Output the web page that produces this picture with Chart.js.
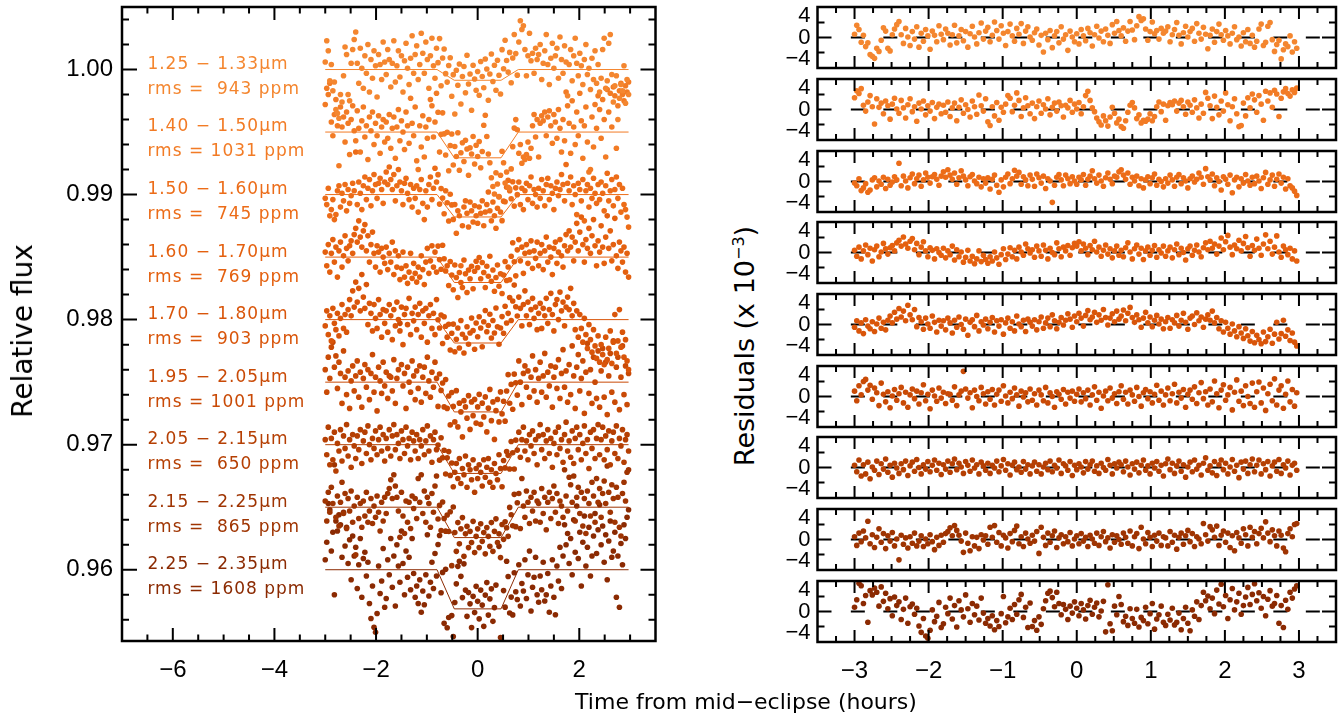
<!DOCTYPE html>
<html>
<head>
<meta charset="utf-8">
<script src="https://cdn.jsdelivr.net/npm/chart.js@4.4.0/dist/chart.umd.min.js"></script>
<style>
  html, body { margin: 0; padding: 0; background: #fff; }
  #wrap { position: relative; width: 1343px; height: 718px; overflow: hidden; font-family: "DejaVu Sans", sans-serif; }
  #wrap canvas { position: absolute; }
  .title { position: absolute; font-size: 22px; line-height: 1; color: #000; white-space: nowrap; transform: translate(-50%, -50%); }
  .rot { transform: translate(-50%, -50%) rotate(-90deg); }
  sup { font-size: 16px; vertical-align: 10px; }
</style>
</head>
<body>
<div id="wrap">
  <canvas id="fluxChart" width="680" height="718" style="left:0;top:0"></canvas>
  <div class="title" style="left:746px;top:702px">Time from mid−eclipse (hours)</div>
  <div class="title rot" style="left:23px;top:331px;font-size:28px">Relative flux</div>
  <div class="title rot" style="left:744px;top:346px;font-size:27px">Residuals (x 10<sup>−3</sup>)</div>
</div>
<script>
// time from mid-eclipse (hours), shared by all channels
const times = [
  -3.00,-2.97,-2.94,-2.91,-2.88,-2.85,-2.82,-2.79,-2.76,-2.73,-2.70,-2.67,-2.64,-2.61,-2.58,-2.55,-2.52,-2.49,-2.46,-2.43,
  -2.40,-2.37,-2.34,-2.31,-2.28,-2.25,-2.22,-2.19,-2.16,-2.13,-2.10,-2.07,-2.04,-2.01,-1.98,-1.95,-1.92,-1.89,-1.86,-1.83,
  -1.80,-1.77,-1.74,-1.71,-1.68,-1.65,-1.62,-1.59,-1.56,-1.53,-1.50,-1.47,-1.44,-1.41,-1.38,-1.35,-1.32,-1.29,-1.26,-1.23,
  -1.20,-1.17,-1.14,-1.11,-1.08,-1.05,-1.02,-0.99,-0.96,-0.93,-0.90,-0.87,-0.84,-0.81,-0.78,-0.75,-0.72,-0.69,-0.66,-0.63,
  -0.60,-0.57,-0.54,-0.51,-0.48,-0.45,-0.42,-0.39,-0.36,-0.33,-0.30,-0.27,-0.24,-0.21,-0.18,-0.15,-0.12,-0.09,-0.06,-0.03,
  0.00,0.03,0.06,0.09,0.12,0.15,0.18,0.21,0.24,0.27,0.30,0.33,0.36,0.39,0.42,0.45,0.48,0.51,0.54,0.57,
  0.60,0.63,0.66,0.69,0.72,0.75,0.78,0.81,0.84,0.87,0.90,0.93,0.96,0.99,1.02,1.05,1.08,1.11,1.14,1.17,
  1.20,1.23,1.26,1.29,1.32,1.35,1.38,1.41,1.44,1.47,1.50,1.53,1.56,1.59,1.62,1.65,1.68,1.71,1.74,1.77,
  1.80,1.83,1.86,1.89,1.92,1.95,1.98,2.01,2.04,2.07,2.10,2.13,2.16,2.19,2.22,2.25,2.28,2.31,2.34,2.37,
  2.40,2.43,2.46,2.49,2.52,2.55,2.58,2.61,2.64,2.67,2.70,2.73,2.76,2.79,2.82,2.85,2.88,2.91,2.94,2.97
];

const bands = ['1.25 − 1.33μm', '1.40 − 1.50μm', '1.50 − 1.60μm', '1.60 − 1.70μm', '1.70 − 1.80μm',
               '1.95 − 2.05μm', '2.05 − 2.15μm', '2.15 − 2.25μm', '2.25 − 2.35μm'];
const rmsLabels = ['rms =  943 ppm', 'rms = 1031 ppm', 'rms =  745 ppm', 'rms =  769 ppm', 'rms =  903 ppm',
                   'rms = 1001 ppm', 'rms =  650 ppm', 'rms =  865 ppm', 'rms = 1608 ppm'];
const baselines = [1.000, 0.995, 0.990, 0.985, 0.980, 0.975, 0.970, 0.965, 0.960];
const depths = [0.86, 2.06, 1.79, 2.03, 1.87, 2.38, 2.30, 2.43, 3.13];   // eclipse depth, x 10^-3
const contacts = [-0.80, -0.46, 0.46, 0.80];                              // hours
const colors = ['#F4862F', '#F27B25', '#EC6C18', '#E4600F', '#D9550A', '#C94A06', '#B53F03', '#9F3402', '#8B2A02'];

// residuals, x 10^-3
const res1 = [
  0.6,2.3,1.5,-0.9,0.4,-1.7,-1.0,-3.2,-3.5,-3.9,-2.0,-2.6,-0.5,1.8,1.2,-2.0,-2.5,0.5,1.6,2.4,
  3.0,0.5,-1.1,1.7,0.1,-1.5,1.1,-0.3,2.0,-1.8,0.8,-0.7,1.5,0.3,-2.2,1.2,0.4,-0.8,2.2,0.6,
  -0.4,1.6,0.8,-1.4,0.5,2.3,-1.0,0.3,1.5,-0.6,1.1,-1.8,0.7,2.1,0.1,-1.2,0.9,2.7,-0.3,1.2,
  1.9,-0.8,0.4,2.9,1.3,-0.3,2.2,0.8,-1.5,1.1,2.5,0.3,-0.7,1.7,0.6,2.6,-1.1,1.2,2.0,0.1,
  -0.5,0.9,1.6,-1.4,0.4,-2.7,0.8,-0.4,1.3,-1.9,0.3,1.1,-1.0,2.0,-0.3,0.5,-2.4,1.2,0.1,-0.8,
  0.7,-1.2,1.5,0.3,-0.6,1.7,0.9,-1.6,0.5,2.1,-0.1,1.2,-0.8,1.6,0.4,-1.1,2.4,0.8,3.0,1.3,
  0.3,1.8,-0.7,1.2,3.0,1.4,-0.4,2.2,3.9,3.2,3.5,1.6,-0.5,1.1,2.9,0.7,1.3,-0.3,1.7,0.8,
  1.2,2.0,-0.8,0.5,1.5,2.8,0.4,-1.2,0.9,2.1,0.1,1.1,1.7,-0.7,2.6,0.8,-0.3,1.9,0.6,-2.1,
  0.4,1.6,-0.9,1.1,2.5,0.5,-0.5,1.3,0.3,-1.2,0.8,2.0,-0.4,0.1,-1.6,0.9,-0.8,1.5,-1.1,0.4,
  -1.8,-0.7,1.6,2.5,-1.5,-0.9,2.1,2.8,-0.4,-2.6,-1.3,-0.5,-4.0,-2.3,-1.2,-1.7,0.3,-2.7,-0.8,-2.0
];
const res2 = [
  2.2,3.5,3.0,3.9,0.8,-0.3,1.4,2.6,0.5,-2.7,2.0,0.4,1.2,-0.8,1.6,0.7,-1.8,1.0,2.1,0.1,
  -0.7,1.7,0.3,-1.6,0.9,2.0,-0.4,0.5,-2.2,1.2,0.1,1.6,-1.0,0.7,-0.3,1.3,-1.7,0.4,1.0,-0.8,
  0.8,-0.5,1.4,-1.3,0.3,1.2,-2.1,0.4,1.8,-0.7,0.9,0.0,-1.4,1.6,0.5,-0.9,2.7,0.7,-0.3,2.0,
  -2.3,-3.0,0.5,-1.2,1.3,-2.0,0.4,-0.5,1.0,2.6,2.1,-0.4,0.8,3.1,1.7,-1.3,0.3,2.2,0.7,-0.8,
  1.2,-1.7,0.5,1.6,-0.7,0.9,0.1,2.0,-1.0,0.4,1.2,-0.3,1.4,0.7,-1.4,0.8,0.3,1.7,-0.5,1.0,
  0.1,1.3,-0.8,0.5,2.6,3.4,1.7,0.3,-0.4,-1.6,-2.3,-2.9,-1.2,-2.1,-3.1,-1.4,0.4,-0.7,-2.5,-1.8,
  -3.2,-3.5,-2.1,-0.5,0.8,1.3,0.3,-1.7,-1.0,-2.5,-2.0,-2.2,-1.8,-0.8,-2.1,-1.3,0.5,1.4,-0.4,1.0,
  -2.0,0.7,1.3,0.9,1.6,-0.3,1.2,1.7,0.5,-0.9,1.4,0.8,-0.5,1.8,0.3,-1.6,1.0,-0.7,3.2,2.1,
  0.7,-1.7,2.5,0.4,-1.0,1.6,-0.3,3.1,0.9,-2.1,0.5,2.0,-0.8,-3.2,-3.0,1.2,-1.2,2.2,0.3,2.9,
  1.8,-0.5,2.6,1.0,-2.0,3.4,1.6,3.1,0.4,3.6,2.9,-1.3,2.1,3.3,3.9,3.0,2.5,3.7,3.2,4.0
];
const res3 = [
  -0.3,-0.8,0.5,-1.7,-1.2,-0.4,-2.0,-1.6,0.3,0.7,-1.0,0.1,-0.5,0.8,-1.3,0.4,-0.7,-0.1,0.9,0.3,
  3.4,-0.8,1.0,0.1,-1.2,0.7,1.4,-0.4,0.5,1.2,-0.9,0.3,1.6,0.8,-0.3,0.9,1.3,0.4,-0.7,1.0,
  1.8,0.8,2.2,1.2,0.4,1.6,-0.5,0.7,2.0,1.0,0.3,-0.8,0.9,1.3,0.1,-0.4,0.8,-1.0,0.5,-0.3,
  0.7,-1.4,0.4,1.2,-0.7,-2.0,0.3,-1.0,0.8,1.4,-0.4,0.5,2.1,1.0,1.7,-0.5,0.9,0.3,-0.8,1.2,
  0.4,-0.9,1.4,0.7,-0.3,1.0,-1.3,0.5,0.1,-3.9,-0.7,0.8,1.3,0.3,-0.8,1.2,0.5,-0.4,0.9,0.1,
  -0.5,0.8,0.3,1.3,-0.7,0.4,1.0,2.0,0.5,-0.3,1.2,0.1,-0.9,0.7,1.6,0.4,-0.4,1.0,0.8,1.8,
  2.2,1.2,0.4,1.6,-0.5,0.8,0.1,1.0,-0.8,0.5,-1.2,0.3,0.9,-0.4,0.7,1.4,-0.7,0.4,0.0,-1.0,
  0.5,-0.3,1.2,0.3,-0.9,0.8,1.3,-0.4,0.7,0.1,-1.2,0.5,1.0,-0.1,0.4,1.6,0.8,-0.5,2.4,0.9,
  0.3,1.4,-0.8,0.7,0.0,-1.6,0.9,0.4,-0.5,1.2,-2.1,0.3,0.8,-1.0,0.5,-0.3,1.3,0.1,-0.7,0.8,
  -0.4,1.0,0.1,-1.3,0.7,1.7,-0.5,0.3,1.2,-0.9,0.4,1.4,-0.3,0.8,-1.4,0.5,-0.8,-1.2,-1.8,-2.6
];
const res4 = [
  0.4,-0.7,1.0,-1.2,0.3,1.4,-0.4,0.8,-1.6,0.5,1.2,-0.8,0.1,1.7,0.7,-0.3,0.9,1.3,0.3,1.8,
  2.3,1.2,2.9,1.6,0.8,2.1,2.6,0.5,1.7,-0.4,1.0,2.0,0.3,-0.8,0.9,0.4,-1.2,0.7,0.0,-0.5,
  0.8,-1.0,0.3,-0.4,1.2,-1.4,0.5,-0.8,0.1,-1.8,-0.9,0.4,-1.6,-0.7,-2.1,-1.2,0.3,-1.7,-0.5,-1.3,
  -2.0,-0.8,-1.6,0.1,-1.0,-2.2,-0.4,0.7,-1.3,-0.3,0.9,-0.8,0.4,-1.2,1.0,0.1,-0.5,1.6,0.7,-0.1,
  0.5,-0.9,1.2,0.3,-0.7,1.4,0.4,-1.2,0.8,0.0,-0.4,1.8,0.7,-0.8,1.0,0.3,1.3,-0.5,0.9,1.7,
  1.2,2.0,0.3,1.6,0.8,-0.4,1.3,0.5,2.1,0.1,1.0,-0.7,0.4,1.4,-0.3,0.7,-1.0,0.3,1.2,-0.5,
  0.4,-0.8,0.9,1.8,0.1,-1.2,0.7,1.4,-0.3,0.8,-1.3,0.3,1.0,-0.5,0.4,1.3,-0.9,0.5,-0.1,1.2,
  -0.7,0.3,1.0,-1.0,0.5,1.6,-0.4,0.8,0.0,-1.4,0.7,1.2,-0.5,0.4,1.4,0.1,-0.8,0.9,1.8,0.5,
  2.1,0.8,1.6,-0.3,1.2,2.7,0.5,2.0,3.2,1.0,-0.4,1.4,0.7,2.3,0.3,1.7,3.0,0.9,-0.7,1.3,
  0.4,2.5,0.8,-0.5,1.6,3.3,0.7,2.1,-0.3,1.0,3.1,0.1,-0.9,1.2,0.5,-0.4,0.8,-1.2,0.3,-1.6
];
const res5 = [
  -0.5,0.7,-1.2,0.3,-1.7,0.9,-0.3,-0.8,0.5,-1.3,0.1,1.2,-0.7,0.4,-1.0,0.8,1.6,0.3,2.3,1.0,
  3.0,1.4,2.5,0.7,3.6,1.8,0.9,2.8,-0.4,1.3,0.5,-0.9,1.2,0.1,-0.7,1.6,0.4,-1.4,0.8,-0.3,
  0.7,-1.0,1.2,0.3,-1.6,0.8,-0.5,1.4,0.0,-0.9,1.0,-2.0,0.4,0.9,-0.4,1.7,-1.2,0.5,-0.1,1.0,
  -0.8,0.4,1.3,-1.4,0.7,-0.3,0.9,-1.8,0.3,1.2,-0.7,0.5,-1.2,1.6,0.1,-0.4,0.8,-1.3,1.0,0.4,
  -0.3,0.9,-1.0,0.5,1.4,-0.7,0.3,1.2,-0.4,1.8,0.7,-0.8,0.4,1.3,-0.1,0.8,2.0,1.0,-0.5,1.6,
  0.5,2.1,1.2,-0.3,1.7,2.6,0.9,1.4,2.3,0.4,1.8,0.8,2.8,1.3,-0.1,1.2,2.0,0.5,2.5,1.0,
  1.6,2.7,0.7,2.1,3.2,1.3,0.4,1.8,0.9,-0.5,1.2,2.3,0.3,1.4,-0.4,0.8,1.7,0.1,1.0,-0.8,
  0.5,1.3,-0.7,0.9,0.3,1.7,-0.3,0.8,2.1,0.4,-0.9,1.2,1.6,0.0,2.2,0.7,1.4,-0.5,1.0,1.8,
  0.8,2.5,0.3,1.3,-0.8,0.7,-1.4,0.4,-0.7,-1.8,0.1,-1.2,-2.3,-0.4,-1.6,-2.6,-0.8,-2.1,-3.1,-1.3,
  -3.4,-2.0,-2.8,-3.6,-1.4,-3.2,-2.3,-0.9,-3.5,-1.8,0.4,-2.7,-1.7,0.8,-2.2,-1.0,-3.0,-1.6,-3.3,-4.0
];
const res6 = [
  1.0,-0.8,2.0,0.3,2.8,3.2,1.2,2.1,-0.5,1.6,0.7,-1.7,2.5,0.4,-1.0,0.9,-2.1,0.1,1.3,-0.7,
  0.5,1.7,-1.2,0.8,-2.0,0.3,1.4,-0.4,1.0,-1.4,0.7,2.2,-0.8,0.4,-2.3,1.2,0.1,-0.9,1.6,-0.3,
  0.8,-1.3,0.5,0.4,-0.7,1.8,-1.7,0.3,1.0,4.7,1.4,-0.3,0.7,-2.1,1.2,0.0,-0.8,1.7,0.5,-1.4,
  0.9,-0.5,1.3,-1.6,0.4,1.2,-0.9,2.0,0.1,-1.2,0.8,-0.4,1.6,0.3,-1.8,1.0,-0.1,0.7,-1.0,1.4,
  -0.7,0.5,-1.6,1.2,0.3,-0.8,1.7,-1.2,0.7,0.0,-2.0,0.9,0.4,-0.5,1.3,-1.4,0.8,-0.3,1.0,-0.9,
  0.4,1.4,-1.0,0.7,-0.4,1.2,-1.6,0.3,1.8,-0.7,0.8,-2.2,0.1,1.0,-0.8,1.6,-0.3,0.5,-1.3,0.9,
  2.0,-0.5,0.8,-1.4,1.2,0.3,-0.9,1.7,0.0,-1.8,0.7,1.3,-0.4,0.9,-1.2,0.4,2.1,-0.7,1.0,-1.6,
  0.3,1.6,-0.8,0.5,2.3,-1.2,0.8,-0.3,1.3,-2.0,0.4,1.2,-0.5,1.8,-1.3,0.7,2.6,-0.4,0.9,-1.6,
  1.4,-1.0,2.9,0.5,-2.1,1.2,2.2,-0.7,0.3,1.7,-2.5,0.8,3.1,-0.9,1.0,-1.7,2.0,0.0,-1.3,2.5,
  -2.0,0.9,2.7,-1.2,1.6,-2.6,0.5,2.3,-0.8,3.3,-1.6,1.2,2.0,-2.2,0.4,2.9,-1.0,1.3,-1.8,0.7
];
const res7 = [
  0.4,-0.8,1.4,-1.6,0.5,-1.2,1.0,-2.1,0.1,-0.5,1.2,-1.3,0.7,-0.3,1.6,-0.9,0.4,-1.8,0.8,-0.1,
  -1.1,0.7,-0.4,1.2,-1.5,0.3,1.0,-0.7,1.5,0.0,-1.2,0.5,-0.3,1.1,-0.8,0.4,1.4,-0.5,0.8,-1.3,
  0.5,-0.3,1.2,-0.9,0.7,1.6,-0.4,0.8,0.1,-1.1,1.1,0.4,-0.7,1.4,-0.1,0.5,-1.2,1.0,0.3,-0.5,
  0.8,-1.1,0.4,-0.1,1.2,-0.8,0.3,1.5,-0.5,0.7,-1.4,0.4,1.0,-0.4,0.1,-0.9,1.1,-0.3,0.5,-1.2,
  0.3,1.0,-0.7,0.5,-1.2,0.1,0.8,-0.4,1.2,-0.8,0.4,-0.1,1.4,-1.1,0.7,0.3,-0.5,1.1,-1.5,0.4,
  -0.4,0.7,0.1,-1.0,1.1,-0.3,0.5,1.2,-0.7,0.3,-1.1,0.8,0.0,-0.5,1.5,0.4,-1.2,0.7,-0.1,1.0,
  0.5,-0.8,1.2,0.1,-1.4,0.7,-0.3,1.0,-1.0,0.4,1.4,-0.5,0.3,-1.2,0.8,-0.1,1.1,-0.7,0.4,-1.6,
  0.7,1.6,-0.4,0.8,-1.1,0.3,1.2,-0.7,0.5,-1.8,0.1,1.0,-0.8,1.4,-0.3,0.4,-1.4,0.8,1.8,-0.5,
  0.3,-1.0,1.1,-1.5,0.5,1.4,-0.4,0.8,-1.2,0.1,1.5,-0.7,0.4,-1.9,1.0,-0.3,1.2,-1.1,0.5,1.6,
  -0.8,0.4,1.4,-1.2,0.7,-0.4,1.1,-1.6,0.3,1.0,-0.7,1.5,-1.1,0.5,-0.1,1.2,-1.4,0.4,0.8,-0.5
];
const res8 = [
  0.5,-1.1,1.2,-0.4,1.6,0.3,3.4,-0.8,0.9,-1.5,0.4,2.0,-0.5,1.1,-1.7,0.7,-0.3,1.3,-1.2,0.1,
  -3.8,0.8,-0.9,0.3,-1.6,0.5,-0.7,1.2,-1.2,-0.3,0.7,-1.3,0.1,-0.8,0.9,-0.4,-1.9,0.4,-1.1,0.8,
  -0.5,1.1,1.5,2.2,0.7,2.6,1.7,0.8,-0.3,-2.4,1.2,-0.7,-2.1,0.5,-1.2,0.4,-1.7,0.9,-0.1,0.7,
  -0.9,2.3,0.4,2.6,-0.5,1.3,-1.2,0.8,0.3,-1.6,1.1,-0.4,1.7,2.5,-0.8,0.5,-1.3,1.2,0.1,-0.7,
  0.8,-0.3,1.5,-2.6,2.3,0.4,-1.1,1.2,-0.5,0.7,1.6,-1.5,0.3,0.9,-0.8,0.5,-0.4,1.3,-1.2,0.1,
  0.7,-0.8,1.1,-0.3,0.4,-1.3,0.8,0.1,-0.7,1.2,-1.1,0.5,1.5,-0.4,0.3,-1.6,0.9,-0.5,0.7,0.0,
  -0.9,1.2,0.4,-0.7,1.6,-1.2,0.5,1.1,-1.7,2.3,0.1,-0.8,1.3,0.4,-1.3,0.8,-0.3,1.2,-1.1,0.5,
  0.3,-1.2,1.5,-0.5,0.8,-1.8,0.4,1.2,-0.9,0.7,1.7,-0.4,1.1,-1.3,0.5,0.1,-0.8,3.0,0.9,-0.3,
  2.4,1.8,0.4,2.5,-1.1,0.8,1.6,-0.5,1.2,-1.5,0.7,-2.1,1.3,0.3,-0.7,2.0,0.9,-1.2,2.3,0.4,
  1.5,-0.8,1.1,2.1,0.3,3.3,1.2,-0.4,1.8,0.7,-1.2,1.6,0.8,-1.6,-2.3,1.1,2.0,0.5,2.8,3.0
];
const res9 = [
  0.8,2.2,5.3,4.8,1.5,3.0,-2.0,3.9,3.1,4.4,3.6,1.0,4.6,1.9,3.4,0.5,2.4,-0.8,2.7,1.1,
  1.8,-1.5,0.4,2.5,-2.2,0.9,1.4,-0.5,0.6,-2.7,-3.9,-1.3,-4.6,-5.0,-3.5,0.3,-1.9,-0.9,1.7,-3.0,
  -2.3,0.8,-0.4,2.5,-1.4,1.1,-2.9,2.0,0.3,-1.0,3.1,0.5,-2.0,1.5,-0.6,1.0,-1.6,2.5,-0.3,-2.2,
  -1.3,-2.7,-0.8,-3.4,-1.7,-2.8,-0.4,2.8,-2.1,-1.0,0.6,-1.5,1.3,-0.5,2.2,3.2,-1.1,0.8,-3.0,1.6,
  -2.8,-1.7,-3.5,-1.0,-2.4,0.5,2.0,3.4,3.8,2.6,0.9,3.6,1.5,-0.6,1.3,0.4,-1.5,1.0,-0.3,1.8,
  0.6,-0.8,1.5,0.3,-1.4,1.1,2.1,-0.5,0.8,1.6,-1.0,0.1,1.9,-3.8,5.0,-2.3,-3.6,1.0,-0.6,2.8,
  1.3,-1.9,-0.9,-2.6,0.5,-1.3,-2.2,0.4,-2.9,-1.1,-1.7,0.8,-2.3,-0.4,1.5,-3.3,-1.4,-0.6,1.0,-2.0,
  -2.6,-0.5,-1.6,0.6,-2.5,-2.0,-0.3,-3.4,-1.3,0.8,-2.2,-3.6,0.3,-0.9,1.8,-1.5,1.1,3.6,2.0,2.9,
  0.5,2.5,-0.4,4.0,1.4,5.1,0.9,3.0,-1.3,2.2,4.3,0.3,1.8,3.4,-0.5,1.1,2.7,4.5,1.3,3.2,
  5.2,2.0,3.5,0.6,2.8,-0.8,2.3,3.9,1.0,1.5,3.0,-2.2,1.1,-3.0,2.1,0.4,3.6,2.5,4.2,4.8
];
const residuals = [res1, res2, res3, res4, res5, res6, res7, res8, res9];

const family = '"DejaVu Sans", sans-serif';
const tickFamily = '"Liberation Sans", Arial, sans-serif';
Chart.defaults.font.family = family;
Chart.defaults.color = '#000';

const minus = v => String(v).replace('-', '−');

// trapezoid eclipse model
function eclipseModel(t, base, depth) {
  const [t1, t2, t3, t4] = contacts;
  let f = 0;
  if (t > t1 && t < t2) f = (t - t1) / (t2 - t1);
  else if (t >= t2 && t <= t3) f = 1;
  else if (t > t3 && t < t4) f = (t4 - t) / (t4 - t3);
  return base - f * depth / 1000;
}

// box + inward ticks on all four sides
function makeFrame(spec) {
  return {
    id: 'frame',
    afterDatasetsDraw(chart) {
      const { ctx, chartArea: a } = chart;
      const xs = chart.scales.x, ys = chart.scales.y;
      ctx.save();
      ctx.strokeStyle = '#000';
      ctx.lineWidth = 2;
      ctx.beginPath();
      const xt = (list, len) => list.forEach(v => {
        const p = xs.getPixelForValue(v);
        ctx.moveTo(p, a.top); ctx.lineTo(p, a.top + len);
        ctx.moveTo(p, a.bottom); ctx.lineTo(p, a.bottom - len);
      });
      const yt = (list, len) => list.forEach(v => {
        const p = ys.getPixelForValue(v);
        ctx.moveTo(a.left, p); ctx.lineTo(a.left + len, p);
        ctx.moveTo(a.right, p); ctx.lineTo(a.right - len, p);
      });
      xt(spec.xMajor, spec.xLen[0]); xt(spec.xMinor, spec.xLen[1]);
      yt(spec.yMajor, spec.yLen[0]); yt(spec.yMinor, spec.yLen[1]);
      ctx.stroke();
      ctx.lineWidth = 2.5;
      ctx.strokeRect(a.left, a.top, a.right - a.left, a.bottom - a.top);
      ctx.restore();
    }
  };
}

// ---- left panel: light curves ----
const fluxMajorX = [-6, -4, -2, 0, 2];
const fluxMinorX = [];
for (let k = -13; k <= 6; k++) if (k % 4 !== 0) fluxMinorX.push(k / 2);
const fluxMajorY = [0.96, 0.97, 0.98, 0.99, 1.00];
const fluxMinorY = [];
for (let k = 478; k <= 502; k++) if (k % 5 !== 0) fluxMinorY.push(k / 500);

const fluxSets = [];
residuals.forEach((res, i) => {
  fluxSets.push({
    data: times.map((t, k) => ({ x: t, y: eclipseModel(t, baselines[i], depths[i]) + res[k] / 1000 })),
    backgroundColor: colors[i], pointBackgroundColor: colors[i],
    pointRadius: 2.8, pointBorderWidth: 0, order: 2
  });
  const knots = [times[0], ...contacts, times[times.length - 1]];
  fluxSets.push({
    data: knots.map(t => ({ x: t, y: eclipseModel(t, baselines[i], depths[i]) })),
    showLine: true, borderColor: colors[i], borderWidth: 1, pointRadius: 0, order: 1
  });
});

const bandLabels = {
  id: 'bandLabels',
  afterDatasetsDraw(chart) {
    const { ctx, scales: { x, y } } = chart;
    ctx.save();
    ctx.font = '17px ' + family;
    if ('letterSpacing' in ctx) ctx.letterSpacing = '1px';
    ctx.textBaseline = 'middle';
    ctx.textAlign = 'left';
    const px = x.getPixelForValue(-6.5);
    bands.forEach((b, i) => {
      const py = y.getPixelForValue(baselines[i]);
      ctx.fillStyle = colors[i];
      ctx.fillText(b, px, py - 5);
      ctx.fillText(rmsLabels[i], px, py + 20);
    });
    ctx.restore();
  }
};

const tickFont = { family: tickFamily, size: 24 };

new Chart(document.getElementById('fluxChart'), {
  type: 'scatter',
  data: { datasets: fluxSets },
  options: {
    responsive: false, animation: false, devicePixelRatio: 1, events: [],
    layout: { padding: { top: 7, right: 24.5, left: 0, bottom: 0 } },
    plugins: { legend: { display: false }, tooltip: { enabled: false } },
    scales: {
      x: {
        type: 'linear', min: -7, max: 3.5,
        grid: { display: false, drawTicks: false }, border: { display: false },
        afterBuildTicks: s => { s.ticks = fluxMajorX.map(v => ({ value: v })); },
        afterFit: s => { s.height = 77; s.paddingLeft = 0; s.paddingRight = 0; },
        ticks: { autoSkip: false, maxRotation: 0, padding: 15, font: tickFont, callback: v => minus(v) }
      },
      y: {
        type: 'linear', min: 0.9543, max: 1.005,
        grid: { display: false, drawTicks: false }, border: { display: false },
        afterBuildTicks: s => { s.ticks = fluxMajorY.map(v => ({ value: v })); },
        afterFit: s => { s.width = 122; s.paddingTop = 0; s.paddingBottom = 0; },
        ticks: { autoSkip: false, padding: 9, font: tickFont, callback: v => v.toFixed(2) }
      }
    }
  },
  plugins: [makeFrame({ xMajor: fluxMajorX, xMinor: fluxMinorX, xLen: [13, 6.5],
                        yMajor: fluxMajorY, yMinor: fluxMinorY, yLen: [15, 7] }), bandLabels]
});

// ---- right panels: residuals ----
const resMajorX = [-3, -2, -1, 0, 1, 2, 3];
const resMinorX = [];
for (let k = -13; k <= 13; k++) if (k % 4 !== 0) resMinorX.push(k / 4);
const resLabelsY = [-4, 0, 4];
const panelTops = [0, 72, 144, 215, 287, 359, 430, 502, 574];
const wrap = document.getElementById('wrap');

residuals.forEach((res, i) => {
  const last = i === residuals.length - 1;
  const h = last ? 718 - panelTops[i] : 75;
  const cv = document.createElement('canvas');
  cv.width = 583; cv.height = h;
  cv.style.left = '760px'; cv.style.top = panelTops[i] + 'px';
  wrap.appendChild(cv);
  new Chart(cv, {
    type: 'scatter',
    data: {
      datasets: [
        { data: [{ x: -3.05, y: 0 }, { x: 3.5, y: 0 }], showLine: true, borderColor: '#000',
          borderWidth: 2, borderDash: [14, 18.5], pointRadius: 0, order: 2 },
        { data: times.map((t, k) => ({ x: t, y: res[k] })), backgroundColor: colors[i],
          pointBackgroundColor: colors[i], pointRadius: 2.8, pointBorderWidth: 0, order: 1 }
      ]
    },
    options: {
      responsive: false, animation: false, devicePixelRatio: 1, events: [],
      layout: { padding: { top: 7, right: 7, left: 0, bottom: 0 } },
      plugins: { legend: { display: false }, tooltip: { enabled: false } },
      scales: {
        x: {
          type: 'linear', min: -3.5, max: 3.5,
          grid: { display: false, drawTicks: false }, border: { display: false },
          afterBuildTicks: s => { s.ticks = resMajorX.map(v => ({ value: v })); },
          afterFit: s => { s.height = h - 68; s.paddingLeft = 0; s.paddingRight = 0; },
          ticks: { display: last, autoSkip: false, maxRotation: 0, padding: 15, font: tickFont, callback: v => minus(v) }
        },
        y: {
          type: 'linear', min: -5.7, max: 5.7,
          grid: { display: false, drawTicks: false }, border: { display: false },
          afterBuildTicks: s => { s.ticks = resLabelsY.map(v => ({ value: v })); },
          afterFit: s => { s.width = 57.5; s.paddingTop = 0; s.paddingBottom = 0; },
          ticks: { autoSkip: false, padding: 7, font: { family: tickFamily, size: 22 }, callback: v => minus(v) }
        }
      }
    },
    plugins: [makeFrame({ xMajor: resMajorX, xMinor: resMinorX, xLen: [12, 6],
                          yMajor: [0], yMinor: [-2.8, 2.8], yLen: [14, 7] })]
  });
});
</script>
</body>
</html>
